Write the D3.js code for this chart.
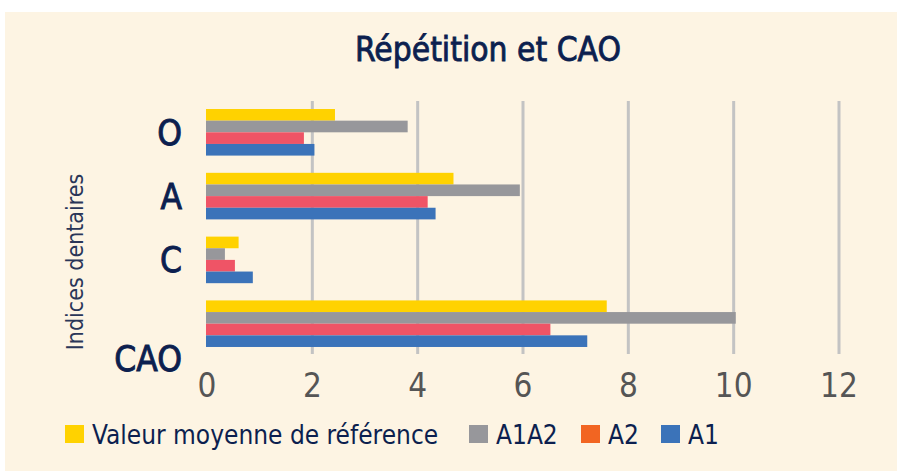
<!DOCTYPE html>
<html>
<head>
<meta charset="utf-8">
<script src="https://cdn.jsdelivr.net/npm/d3@7"></script>
<style>
  body { margin: 0; background: #fff; }
  text { font-family: "DejaVu Sans Condensed", "Roboto", sans-serif; }
</style>
</head>
<body>
<script>
const width = 897, height = 471;

// data
const categories = ['O', 'A', 'C', 'CAO'];
const seriesNames = ['Valeur moyenne de référence', 'A1A2', 'A2', 'A1'];
const reference = [2.43, 4.68, 0.60, 7.59];
const a1a2 = [3.81, 5.94, 0.34, 10.04];
const a2 = [1.84, 4.19, 0.53, 6.52];
const a1 = [2.04, 4.34, 0.87, 7.22];
const xTicks = [0, 2, 4, 6, 8, 10, 12];

const barColors = ['#ffd200', '#97979b', '#ef5466', '#3b73b9'];
const legendColors = ['#ffd200', '#97979b', '#f26522', '#3b73b9'];
const navy = '#0c1f4f';

const values = [reference, a1a2, a2, a1];
const rows = categories.map((c, i) => ({
  cat: c,
  vals: seriesNames.map((s, j) => ({ series: s, idx: j, value: values[j][i] }))
}));

const svg = d3.select('body').append('svg')
    .attr('width', width).attr('height', height);

svg.append('rect')
    .attr('x', 5).attr('y', 12)
    .attr('width', width - 5).attr('height', height - 12)
    .attr('fill', '#fdf4e3');

const x = d3.scaleLinear().domain([0, 12]).range([207, 839]);
const y = d3.scaleBand().domain(categories).range([102, 354])
    .paddingInner(0.27).paddingOuter(0.11);
const ySub = d3.scaleBand().domain(seriesNames).range([0, y.bandwidth()]);

// grid
svg.append('g').selectAll('line')
  .data(xTicks.filter(d => d > 0))
  .join('line')
    .attr('x1', d => x(d)).attr('x2', d => x(d))
    .attr('y1', 101).attr('y2', 354)
    .attr('stroke', '#c3c3c3').attr('stroke-width', 3);

// bars
const group = svg.append('g').selectAll('g')
  .data(rows)
  .join('g')
    .attr('transform', d => `translate(0,${y(d.cat)})`);

group.selectAll('rect')
  .data(d => d.vals)
  .join('rect')
    .attr('x', x(0) - 1)
    .attr('y', d => ySub(d.series))
    .attr('width', d => x(d.value) - x(0) + 1)
    .attr('height', ySub.bandwidth())
    .attr('fill', d => barColors[d.idx]);

// x tick labels
svg.append('g').selectAll('text')
  .data(xTicks)
  .join('text')
    .attr('x', d => x(d))
    .attr('y', 397)
    .attr('text-anchor', 'middle')
    .attr('font-size', 33)
    .attr('fill', '#555555')
    .text(d => d);

// category labels (CAO sits lower in the original)
const labelShift = { CAO: 35 };
svg.append('g').selectAll('text')
  .data(categories)
  .join('text')
    .attr('x', 182)
    .attr('y', d => y(d) + y.bandwidth() / 2 + (labelShift[d] || 0))
    .attr('dy', '0.36em')
    .attr('text-anchor', 'end')
    .attr('font-size', 35)
    .attr('fill', navy)
    .attr('stroke', navy)
    .attr('stroke-width', 0.9)
    .text(d => d);

// axis title
svg.append('text')
    .attr('transform', 'translate(83,262) rotate(-90)')
    .attr('text-anchor', 'middle')
    .attr('font-size', 23)
    .attr('fill', '#2a3658')
    .text('Indices dentaires');

// title
svg.append('text')
    .attr('x', 488).attr('y', 61)
    .attr('text-anchor', 'middle')
    .attr('font-size', 33)
    .attr('textLength', 266)
    .attr('lengthAdjust', 'spacingAndGlyphs')
    .attr('fill', navy)
    .attr('stroke', navy)
    .attr('stroke-width', 0.8)
    .text('Répétition et CAO');

// legend
const legendX = [65, 469, 581, 661];
const legend = svg.append('g').selectAll('g')
  .data(seriesNames)
  .join('g')
    .attr('transform', (d, i) => `translate(${legendX[i]},425)`);

legend.append('rect')
    .attr('width', 19).attr('height', 18)
    .attr('fill', (d, i) => legendColors[i]);

legend.append('text')
    .attr('x', 27).attr('y', 19)
    .attr('font-size', 26)
    .attr('fill', navy)
    .text(d => d);
</script>
</body>
</html>
